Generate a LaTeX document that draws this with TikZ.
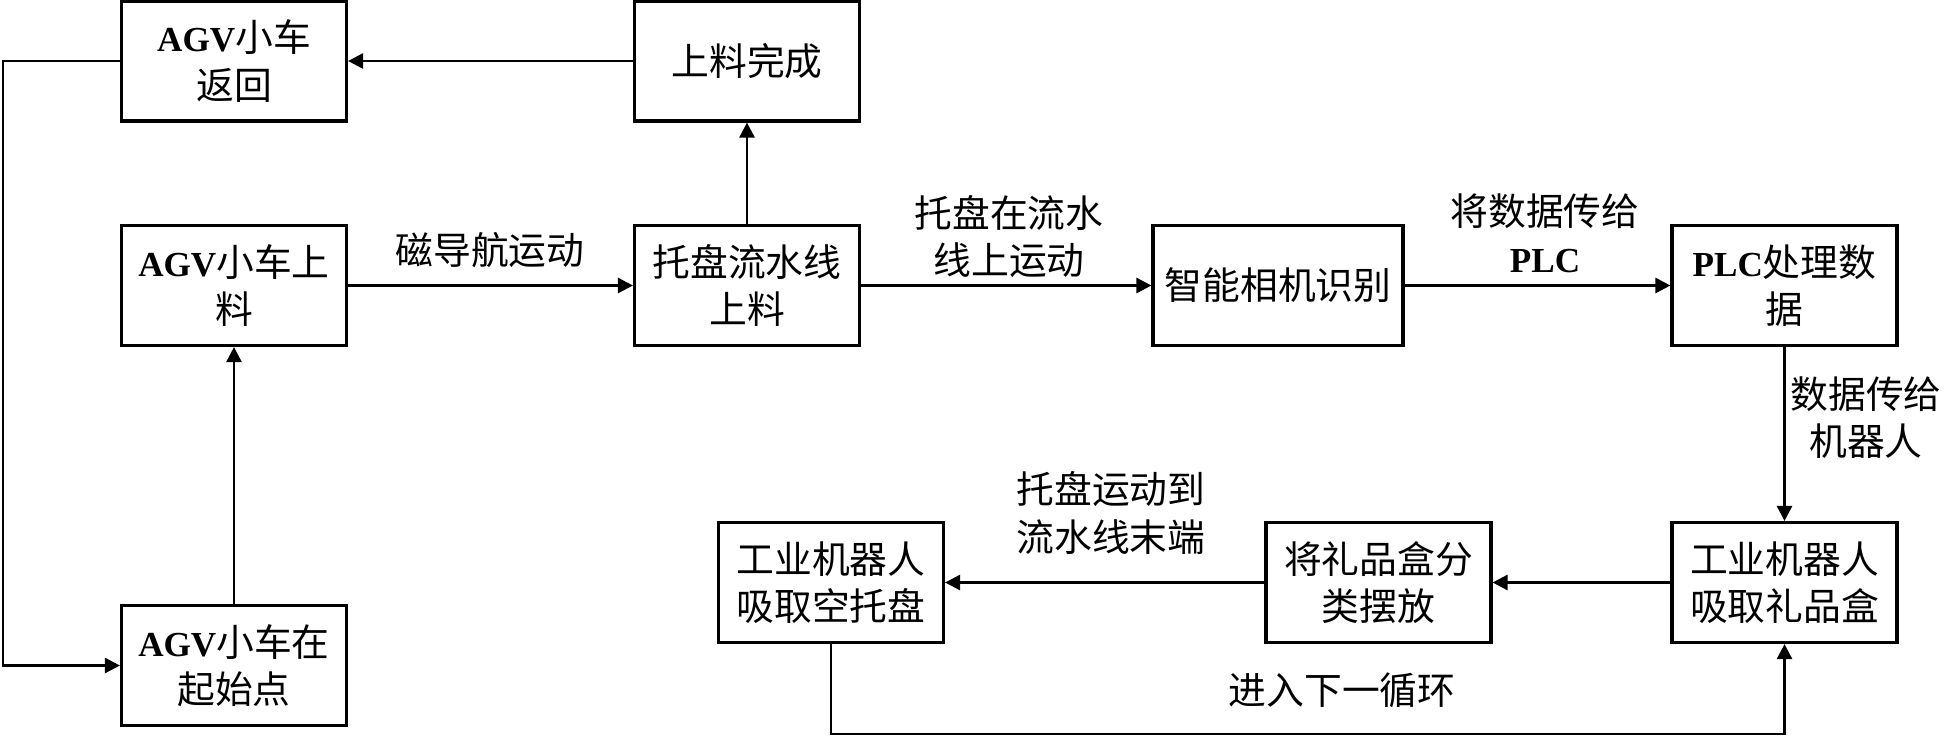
\documentclass[tikz,border=0pt]{standalone}
\usepackage{fontspec}
\setmainfont{Noto Sans CJK SC}
\newfontfamily\latfont[Scale=0.93]{Liberation Serif}
\newcommand{\lat}[1]{{\latfont\bfseries #1}}
\usetikzlibrary{arrows.meta}

\begin{document}
\begin{tikzpicture}[
  box/.style={shape=rectangle,draw=black,line width=1.8pt,minimum width=4.5cm,minimum height=2.4cm,align=center,font=\fontsize{21.5}{27}\selectfont},
  lbl/.style={align=center,font=\fontsize{21.5}{27}\selectfont},
  flow/.style={line width=1.5pt,-{Triangle[length=0.3cm,width=0.3cm]}}
]
\useasboundingbox (0,0) rectangle (38.88,-14.72);

\node[box] (ret) at (4.68,-1.22) {\lat{AGV}小车\\返回};
\node[box] (done) at (14.94,-1.22) {上料完成};
\node[box] (load) at (4.68,-5.71) {\lat{AGV}小车上\\料};
\node[box] (line) at (14.94,-5.71) {托盘流水线\\上料};
\node[box,minimum width=5cm] (cam) at (25.56,-5.71) {智能相机识别};
\node[box] (plc) at (35.69,-5.71) {\lat{PLC}处理数\\据};
\node[box] (start) at (4.68,-13.31) {\lat{AGV}小车在\\起始点};
\node[box] (empty) at (16.62,-11.65) {工业机器人\\吸取空托盘};
\node[box] (sort) at (27.57,-11.65) {将礼品盒分\\类摆放};
\node[box] (grab) at (35.69,-11.65) {工业机器人\\吸取礼品盒};

\node[lbl] (l1) at (9.8,-5.0) {磁导航运动};
\node[lbl] (l2) at (20.18,-4.73) {托盘在流水\\线上运动};
\node[lbl] (l3) at (30.9,-4.67) {将数据传给\\\lat{PLC}};
\node[lbl] (l4) at (37.32,-8.35) {数据传给\\机器人};
\node[lbl] (l5) at (22.22,-10.26) {托盘运动到\\流水线末端};
\node[lbl] (l6) at (26.84,-13.8) {进入下一循环};

\coordinate (c1) at (0.06,-1.22);
\coordinate (c2) at (16.62,-14.68);

\draw[flow] (done) -- (ret);
\draw[flow] (line) -- (done);
\draw[flow] (load) -- (line);
\draw[flow] (line) -- (cam);
\draw[flow] (cam) -- (plc);
\draw[flow] (plc) -- (grab);
\draw[flow] (grab) -- (sort);
\draw[flow] (sort) -- (empty);
\draw[flow] (start) -- (load);
\draw[flow] (ret.west) -- (c1) |- (start.west);
\draw[flow] (empty.south) -- (c2) -| (grab.south);
\end{tikzpicture}
\end{document}
